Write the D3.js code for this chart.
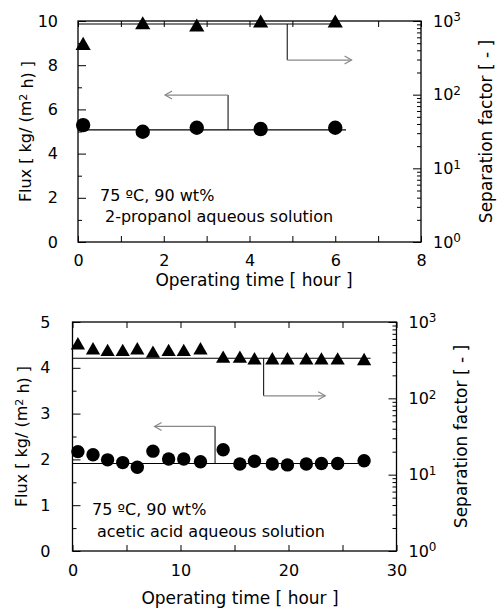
<!DOCTYPE html>
<html>
<head>
<meta charset="utf-8">
<script src="https://cdn.jsdelivr.net/npm/d3@7"></script>
<style>
  body { margin: 0; background: #fff; }
  text { font-family: "DejaVu Sans", sans-serif; fill: #000; }
</style>
</head>
<body>
<div id="chart"></div>
<script>
// ---- data: 2-propanol run (top panel)
const timeA = [0.12, 1.51, 2.77, 4.26, 6.0];
const fluxA = [5.29, 4.99, 5.17, 5.11, 5.17];
const sepA = [465, 885, 824, 933, 933];
const fluxAvgA = 5.07;
const sepAvgA = 910;

// ---- data: acetic acid run (bottom panel)
const timeB = [0.5, 1.9, 3.25, 4.65, 6.0, 7.45, 8.9, 10.3, 11.85, 13.95, 15.5, 16.85, 18.5, 19.9, 21.65, 23.05, 24.55, 27.0];
const fluxB = [2.17, 2.10, 1.99, 1.93, 1.83, 2.18, 2.01, 2.01, 1.95, 2.21, 1.90, 1.96, 1.90, 1.88, 1.90, 1.91, 1.91, 1.97];
const sepB = [495, 426, 405, 405, 426, 385, 405, 405, 426, 330, 330, 315, 315, 315, 313, 313, 313, 308];
const fluxAvgB = 1.91;
const sepAvgB = 335;

// ---- tick values
const xMajorA = [0, 2, 4, 6, 8];
const xMinorA = [1, 3, 5, 7];
const yMajorA = [0, 2, 4, 6, 8, 10];
const yMinorA = [1, 3, 5, 7, 9];
const xMajorB = [0, 10, 20, 30];
const xMinorB = [5, 15, 25];
const yMajorB = [0, 1, 2, 3, 4, 5];
const yMinorB = [0.5, 1.5, 2.5, 3.5, 4.5];
const logMajor = [1, 10, 100, 1000];
const logExp = ['0', '1', '2', '3'];

// ---- texts
const xTitle = 'Operating time [ hour ]';
const sepTitle = 'Separation factor [ - ]';
const noteA = ['75 ºC, 90 wt%', '2-propanol aqueous solution'];
const noteB = ['75 ºC, 90 wt%', 'acetic acid aqueous solution'];

const svg = d3.select('#chart')
    .append('svg')
    .attr('width', 497)
    .attr('height', 609);

const panels = [
    {
        time: timeA, flux: fluxA, sep: sepA, fluxAvg: fluxAvgA, sepAvg: sepAvgA,
        xMax: 8, yMax: 10, xMajor: xMajorA, xMinor: xMinorA, yMajor: yMajorA, yMinor: yMinorA,
        left: 78, right: 421, top: 21, bottom: 242,
        fluxEnd: 6.25, sepEnd: 6.1,
        fluxArrow: { t: 3.5, v: 6.65, tEnd: 2.03 },
        sepArrow: { t: 4.88, v: 295, tEnd: 6.38 },
        yPad: 20, xPad: 13, r: 7.2, tri: 100,
        note: noteA, noteX: [100, 105], noteY: [201, 222],
        xTitleX: 254, xTitleY: 286, leftTitleX: 31, rightTitleX: 492
    },
    {
        time: timeB, flux: fluxB, sep: sepB, fluxAvg: fluxAvgB, sepAvg: sepAvgB,
        xMax: 30, yMax: 5, xMajor: xMajorB, xMinor: xMinorB, yMajor: yMajorB, yMinor: yMinorB,
        left: 72.5, right: 396.5, top: 322, bottom: 551,
        fluxEnd: 27, sepEnd: 27.6,
        fluxArrow: { t: 13.2, v: 2.72, tEnd: 7.6 },
        sepArrow: { t: 17.7, v: 108, tEnd: 23.4 },
        yPad: 22, xPad: 14, r: 6.7, tri: 88,
        note: noteB, noteX: [92, 97], noteY: [515, 537],
        xTitleX: 240, xTitleY: 604, leftTitleX: 27, rightTitleX: 467
    }
];

function styleAxis(sel) {
    sel.select('.domain').remove();
    sel.selectAll('.tick line').attr('stroke', '#000').attr('stroke-width', 1);
    sel.selectAll('.tick text')
        .attr('font-size', 16)
        .attr('font-family', '"DejaVu Sans", sans-serif')
        .attr('fill', '#000');
}

function drawPanel(p) {
    const x = d3.scaleLinear().domain([0, p.xMax]).range([p.left, p.right]);
    const y = d3.scaleLinear().domain([0, p.yMax]).range([p.bottom, p.top]);
    const yLog = d3.scaleLog().domain([1, 1000]).range([p.bottom, p.top]);

    const g = svg.append('g');

    // bottom axis, ticks pointing in
    g.append('g')
        .attr('transform', `translate(0,${p.bottom})`)
        .call(d3.axisBottom(x).tickValues(p.xMajor).tickSize(-6).tickPadding(p.xPad).tickFormat(d3.format('d')))
        .call(styleAxis);
    g.append('g')
        .attr('transform', `translate(0,${p.bottom})`)
        .call(d3.axisBottom(x).tickValues(p.xMinor).tickSize(-6).tickFormat(''))
        .call(styleAxis);
    // mirrored ticks on top
    g.append('g')
        .attr('transform', `translate(0,${p.top})`)
        .call(d3.axisTop(x).tickValues(p.xMajor.concat(p.xMinor)).tickSize(-6).tickFormat(''))
        .call(styleAxis);

    // left flux axis
    g.append('g')
        .attr('transform', `translate(${p.left},0)`)
        .call(d3.axisLeft(y).tickValues(p.yMajor).tickSize(-8).tickPadding(p.yPad).tickFormat(d3.format('d')))
        .call(styleAxis);
    g.append('g')
        .attr('transform', `translate(${p.left},0)`)
        .call(d3.axisLeft(y).tickValues(p.yMinor).tickSize(-4).tickFormat(''))
        .call(styleAxis);

    // right log axis
    const minorLog = [];
    [1, 10, 100].forEach(b => d3.range(2, 10).forEach(k => minorLog.push(b * k)));
    g.append('g')
        .attr('transform', `translate(${p.right},0)`)
        .call(d3.axisRight(yLog).tickValues(minorLog).tickSize(-4).tickFormat(''))
        .call(styleAxis);
    const rAx = g.append('g')
        .attr('transform', `translate(${p.right},0)`)
        .call(d3.axisRight(yLog).tickValues(logMajor).tickSize(-8).tickPadding(12).tickFormat(''))
        .call(styleAxis);
    rAx.selectAll('.tick text').each(function(d, i) {
        const t = d3.select(this);
        t.append('tspan').text('10');
        t.append('tspan').attr('dy', '-0.45em').attr('font-size', 12).text(logExp[i]);
    });

    // frame
    g.append('rect')
        .attr('x', p.left)
        .attr('y', p.top)
        .attr('width', p.right - p.left)
        .attr('height', p.bottom - p.top)
        .attr('fill', 'none')
        .attr('stroke', '#000')
        .attr('stroke-width', 1.3);

    // average lines
    g.append('line')
        .attr('x1', x(0)).attr('x2', x(p.fluxEnd))
        .attr('y1', y(p.fluxAvg)).attr('y2', y(p.fluxAvg))
        .attr('stroke', '#000').attr('stroke-width', 1.2);
    g.append('line')
        .attr('x1', x(0)).attr('x2', x(p.sepEnd))
        .attr('y1', yLog(p.sepAvg)).attr('y2', yLog(p.sepAvg))
        .attr('stroke', '#000').attr('stroke-width', 1.2);

    // arrows pointing to the axis each series belongs to
    const fa = p.fluxArrow;
    g.append('line')
        .attr('x1', x(fa.t)).attr('x2', x(fa.t))
        .attr('y1', y(p.fluxAvg)).attr('y2', y(fa.v))
        .attr('stroke', '#000').attr('stroke-width', 1);
    g.append('line')
        .attr('x1', x(fa.t)).attr('x2', x(fa.tEnd))
        .attr('y1', y(fa.v)).attr('y2', y(fa.v))
        .attr('stroke', '#888').attr('stroke-width', 1.3);
    g.append('path')
        .attr('d', `M${x(fa.tEnd) + 7},${y(fa.v) - 4}L${x(fa.tEnd)},${y(fa.v)}L${x(fa.tEnd) + 7},${y(fa.v) + 4}`)
        .attr('fill', 'none').attr('stroke', '#888').attr('stroke-width', 1.2);

    const sa = p.sepArrow;
    g.append('line')
        .attr('x1', x(sa.t)).attr('x2', x(sa.t))
        .attr('y1', yLog(p.sepAvg)).attr('y2', yLog(sa.v))
        .attr('stroke', '#000').attr('stroke-width', 1);
    g.append('line')
        .attr('x1', x(sa.t)).attr('x2', x(sa.tEnd))
        .attr('y1', yLog(sa.v)).attr('y2', yLog(sa.v))
        .attr('stroke', '#888').attr('stroke-width', 1.3);
    g.append('path')
        .attr('d', `M${x(sa.tEnd) - 7},${yLog(sa.v) - 4}L${x(sa.tEnd)},${yLog(sa.v)}L${x(sa.tEnd) - 7},${yLog(sa.v) + 4}`)
        .attr('fill', 'none').attr('stroke', '#888').attr('stroke-width', 1.2);

    // markers
    g.selectAll('circle.flux')
        .data(p.time)
        .enter().append('circle')
        .attr('class', 'flux')
        .attr('cx', d => x(d))
        .attr('cy', (d, i) => y(p.flux[i]))
        .attr('r', p.r)
        .attr('fill', '#000');
    g.selectAll('path.sep')
        .data(p.time)
        .enter().append('path')
        .attr('class', 'sep')
        .attr('transform', (d, i) => `translate(${x(d)},${yLog(p.sep[i])})`)
        .attr('d', d3.symbol(d3.symbolTriangle, p.tri))
        .attr('fill', '#000');

    // notes
    p.note.forEach((s, i) => {
        g.append('text')
            .attr('x', p.noteX[i])
            .attr('y', p.noteY[i])
            .attr('font-size', 16)
            .text(s);
    });

    // axis titles
    g.append('text')
        .attr('x', p.xTitleX)
        .attr('y', p.xTitleY)
        .attr('text-anchor', 'middle')
        .attr('font-size', 17)
        .text(xTitle);

    const cy = (p.top + p.bottom) / 2;
    const lt = g.append('text')
        .attr('transform', `translate(${p.leftTitleX},${cy}) rotate(-90)`)
        .attr('text-anchor', 'middle')
        .attr('font-size', 16);
    lt.append('tspan').text('Flux [ kg/ (m');
    lt.append('tspan').attr('dy', '-0.4em').attr('font-size', 11).text('2');
    lt.append('tspan').attr('dy', '0.4em').text(' h) ]');

    g.append('text')
        .attr('transform', `translate(${p.rightTitleX},${cy}) rotate(-90)`)
        .attr('text-anchor', 'middle')
        .attr('font-size', 17)
        .text(sepTitle);
}

panels.forEach(drawPanel);
</script>
</body>
</html>
